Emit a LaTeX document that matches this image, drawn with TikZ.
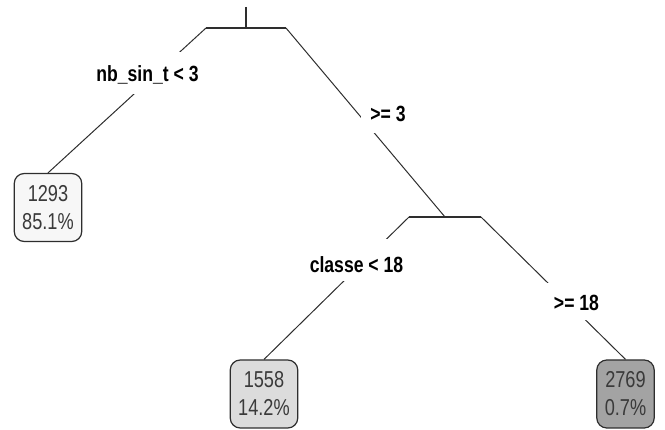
\documentclass[tikz,border=0pt]{standalone}
\usepackage{fontspec}
% narrow sans faces for split labels and leaf counts
\newfontfamily\splitfont[FakeStretch=0.8]{Liberation Sans}
\newfontfamily\leaffont[FakeStretch=0.79]{Liberation Sans}
\definecolor{edgecol}{HTML}{2E2E2E}
\definecolor{leaftext}{HTML}{3A3A3A}
\definecolor{fillA}{HTML}{F7F7F7}
\definecolor{fillB}{HTML}{DCDCDC}
\definecolor{fillC}{HTML}{A3A3A3}
\begin{document}
\begin{tikzpicture}[x=1pt,y=-1pt,
  leaf/.style={draw=edgecol, line width=1.2pt, rounded corners=10pt,
    minimum height=68pt, inner xsep=8pt, inner ysep=0pt, align=center,
    font=\leaffont\fontsize{23}{28}\selectfont, text=leaftext},
  splitlabel/.style={fill=white, inner ysep=0pt, anchor=base,
    font=\splitfont\bfseries\fontsize{22}{26}\selectfont, text=black},
  branch/.style={draw=edgecol, line width=1pt},
  bar/.style={draw=edgecol, line width=1.4pt}]
\useasboundingbox (0,0) rectangle (665,430);

% split points
\coordinate (root) at (246,7);
\coordinate (s1) at (246,28);
\coordinate (s1L) at (206,28);
\coordinate (s1R) at (286,28);
\coordinate (s2) at (445,217);
\coordinate (s2L) at (409,217);
\coordinate (s2R) at (481,217);

% leaves
\node[leaf, fill=fillA] (leaf1) at (48,207.5) {1293\\85.1\%};
\node[leaf, fill=fillB] (leaf2) at (264,394) {1558\\14.2\%};
\node[leaf, fill=fillC] (leaf3) at (625.5,394) {2769\\0.7\%};

% tree skeleton
\draw[bar] (root) -- (s1);
\draw[bar] (s1L) -- (s1R);
\draw[bar] (s2L) -- (s2R);
\draw[branch] (s1L) -- (leaf1.north);
\draw[branch] (s1R) -- (s2);
\draw[branch] (s2L) -- (leaf2.north);
\draw[branch] (s2R) -- (leaf3.north);

% split labels, masking the branches behind them
\node[splitlabel, inner xsep=3pt, text height=30pt, text depth=12pt]
  (lab1) at (147.5,82) {nb\_sin\_t < 3};
\node[splitlabel, inner xsep=9pt, text height=18pt, text depth=11.5pt]
  (lab2) at (388,122) {>= 3};
\node[splitlabel, inner xsep=3pt, text height=34pt, text depth=8pt]
  (lab3) at (356.5,273) {classe < 18};
\node[splitlabel, inner xsep=10pt, text height=28pt, text depth=9pt]
  (lab4) at (576.5,311) {>= 18};
\end{tikzpicture}
\end{document}
